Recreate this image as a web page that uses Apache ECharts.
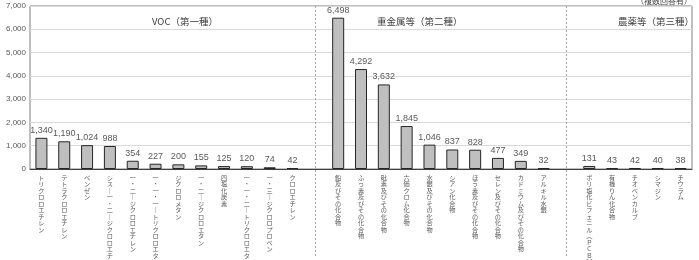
<!DOCTYPE html>
<html>
<head>
<meta charset="utf-8">
<script src="https://cdn.jsdelivr.net/npm/echarts@6/dist/echarts.min.js"></script>
<style>
  html, body { margin: 0; padding: 0; background: #fff; }
  #chart { width: 699px; height: 260px; }
</style>
</head>
<body>
<div id="chart"></div>
<script>
// 空文字のカテゴリは区切り線用
var categories = [
  'トリクロロエチレン', 'テトラクロロエチレン', 'ベンゼン', 'シス－一・二－ジクロロエチレン',
  '一・二－ジクロロエチレン', '一・一・一－トリクロロエタン', 'ジクロロメタン', '一・二－ジクロロエタン',
  '四塩化炭素', '一・一・二－トリクロロエタン', '一・三－ジクロロプロペン', 'クロロエチレン',
  '',
  '鉛及びその化合物', 'ふっ素及びその化合物', '砒素及びその化合物', '六価クロム化合物',
  '水銀及びその化合物', 'シアン化合物', 'ほう素及びその化合物', 'セレン及びその化合物',
  'カドミウム及びその化合物', 'アルキル水銀',
  ' ',
  'ポリ塩化ビフェニル（ＰＣＢ）', '有機りん化合物', 'チオベンカルブ', 'シマジン', 'チウラム'
]
var values = [
  1340, 1190, 1024, 988, 354, 227, 200, 155, 125, 120, 74, 42,
  null,
  6498, 4292, 3632, 1845, 1046, 837, 828, 477, 349, 32,
  null,
  131, 43, 42, 40, 38
]
var separators = ['', ' ']
var groupTitles = ['VOC（第一種）', '重金属等（第二種）', '農薬等（第三種）']

var FONT = "'Liberation Sans', 'Noto Sans CJK JP', sans-serif"
var JP = "'Noto Sans CJK JP', sans-serif"

// 縦書き風にする
function toVertical(s) {
  return s.replace(/[ー－]/g, '｜')
    .replace(/（/g, '︵').replace(/）/g, '︶')
    .split('').join('\n')
}

var myChart = echarts.init(document.getElementById('chart'))

var option = {
  animation: false,
  textStyle: { fontFamily: FONT },
  grid: {
    left: 30, right: 7, top: 6, bottom: 91,
    outerBoundsMode: 'none',
    containLabel: false,
    show: true, borderColor: '#7f7f7f', borderWidth: 1
  },
  title: [
    { text: groupTitles[0], left: 147, top: 12 },
    { text: groupTitles[1], left: 372, top: 12 },
    { text: groupTitles[2], left: 613, top: 12 },
    { text: '（複数回答有）', right: 2, top: -8 }
  ].map(function (t, i) {
    t.textStyle = { fontFamily: JP, fontSize: i < 3 ? 9.5 : 8, fontWeight: 'normal', color: '#404040' }
    return t
  }),
  xAxis: {
    type: 'category',
    data: categories,
    axisLine: { lineStyle: { color: '#404040', width: 1 } },
    axisTick: { show: false },
    axisLabel: {
      interval: 0,
      margin: 5,
      fontFamily: JP,
      fontSize: 6.2,
      lineHeight: 6.5,
      color: '#595959',
      verticalAlign: 'top',
      formatter: function (v) { return toVertical(v) }
    }
  },
  yAxis: {
    type: 'value',
    min: 0,
    max: 7000,
    interval: 1000,
    axisLine: { show: false },
    axisTick: { show: false },
    splitLine: { lineStyle: { color: '#d9d9d9', width: 1 } },
    axisLabel: {
      margin: 4,
      fontSize: 8,
      color: '#595959',
      formatter: function (v) { return v.toLocaleString('en-US') }
    }
  },
  series: [{
    type: 'bar',
    data: values,
    barWidth: 12,
    itemStyle: { color: '#bfbfbf', borderColor: '#262626', borderWidth: 1 },
    label: {
      show: true,
      position: 'top',
      distance: 3,
      fontSize: 9,
      color: '#595959',
      formatter: function (p) { return p.value == null ? '' : p.value.toLocaleString('en-US') }
    }
  }]
}

myChart.setOption(option)

// 区切り線（点線）
var lines = separators.map(function (name) {
  var x = Math.round(myChart.convertToPixel({ xAxisIndex: 0 }, name)) + 0.5
  return {
    type: 'line',
    shape: { x1: x, y1: 6, x2: x, y2: 258 },
    style: { stroke: '#a6a6a6', lineWidth: 1, lineDash: [2, 2] },
    z: 10
  }
})
myChart.setOption({ graphic: lines })
</script>
</body>
</html>
